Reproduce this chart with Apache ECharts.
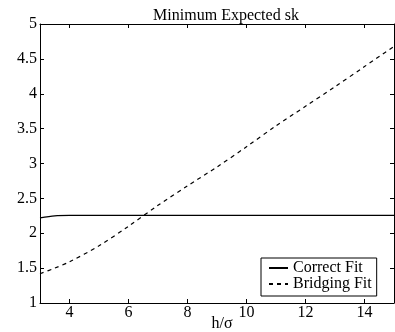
<!DOCTYPE html>
<html>
<head>
<meta charset="utf-8">
<script src="https://cdn.jsdelivr.net/npm/echarts@6/dist/echarts.min.js"></script>
<style>
  html, body { margin: 0; padding: 0; background: #fff; }
  #chart { width: 395px; height: 332px; }
</style>
</head>
<body>
<div id="chart"></div>
<script>
// h/sigma values
var hs = [3, 3.5, 4, 5, 6, 7, 8, 9, 10, 11, 12, 13, 14, 15];
// minimum expected sk
var correctFit  = [2.22, 2.25, 2.255, 2.255, 2.255, 2.255, 2.255, 2.255, 2.255, 2.255, 2.255, 2.255, 2.255, 2.255];
var bridgingFit = [1.42, 1.50, 1.59, 1.82, 2.10, 2.40, 2.68, 2.95, 3.24, 3.54, 3.82, 4.10, 4.39, 4.68];
var xTicks = [4, 6, 8, 10, 12, 14];

var font = "'Liberation Serif', 'DejaVu Serif', serif";
var myChart = echarts.init(document.getElementById('chart'));

function pairs(ys) {
  var out = [];
  for (var i = 0; i < hs.length; i++) { out.push([hs[i], ys[i]]); }
  return out;
}

var axisLine = { show: true, lineStyle: { color: '#000', width: 1 } };
var tick = { show: true, inside: true, length: 4, lineStyle: { color: '#000' } };

var option = {
  animation: false,
  backgroundColor: '#fff',
  title: {
    text: 'Minimum Expected sk',
    left: 221, top: 3, textAlign: 'center',
    textStyle: { fontFamily: font, fontSize: 16, fontWeight: 'normal', color: '#000' }
  },
  legend: {
    orient: 'vertical',
    left: 261, top: 258,
    backgroundColor: '#fff',
    borderColor: '#000', borderWidth: 1,
    padding: [2, 5, 4, 7],
    itemWidth: 19, itemHeight: 10, itemGap: 0,
    itemStyle: { opacity: 0 },
    textStyle: { fontFamily: font, fontSize: 16, lineHeight: 16, color: '#000' },
    data: ['Correct Fit', 'Bridging Fit']
  },
  grid: { left: 40, right: 1, top: 24, bottom: 29, outerBoundsMode: 'none' },
  xAxis: [{
    type: 'value', min: 3, max: 15,
    name: 'h/σ', nameLocation: 'middle', nameGap: 13, nameMoveOverlap: false,
    nameTextStyle: { fontFamily: font, fontSize: 16, color: '#000', padding: [0, 0, 0, 10] },
    axisLine: axisLine, axisTick: Object.assign({ customValues: xTicks }, tick),
    axisLabel: { customValues: xTicks, fontFamily: font, fontSize: 16, color: '#000', margin: 2 },
    splitLine: { show: false }
  }, {
    type: 'value', min: 3, max: 15, position: 'top',
    axisLine: axisLine, axisTick: Object.assign({ customValues: xTicks }, tick),
    axisLabel: { show: false }, splitLine: { show: false }
  }],
  yAxis: [{
    type: 'value', min: 1, max: 5, interval: 0.5,
    axisLine: axisLine, axisTick: tick,
    axisLabel: { fontFamily: font, fontSize: 16, color: '#000', margin: 3 },
    splitLine: { show: false }
  }, {
    type: 'value', min: 1, max: 5, interval: 0.5, position: 'right',
    axisLine: axisLine, axisTick: tick,
    axisLabel: { show: false }, splitLine: { show: false }
  }],
  series: [{
    name: 'Correct Fit', type: 'line', showSymbol: false, symbol: 'none',
    smooth: 0.3,
    lineStyle: { color: '#000', width: 1.2, type: 'solid' },
    itemStyle: { color: '#000' },
    data: pairs(correctFit)
  }, {
    name: 'Bridging Fit', type: 'line', showSymbol: false, symbol: 'none',
    smooth: 0.3,
    lineStyle: { color: '#000', width: 1.2, type: [4, 4] },
    itemStyle: { color: '#000' },
    data: pairs(bridgingFit)
  }]
};

myChart.setOption(option);
window.onresize = myChart.resize;
</script>
</body>
</html>
